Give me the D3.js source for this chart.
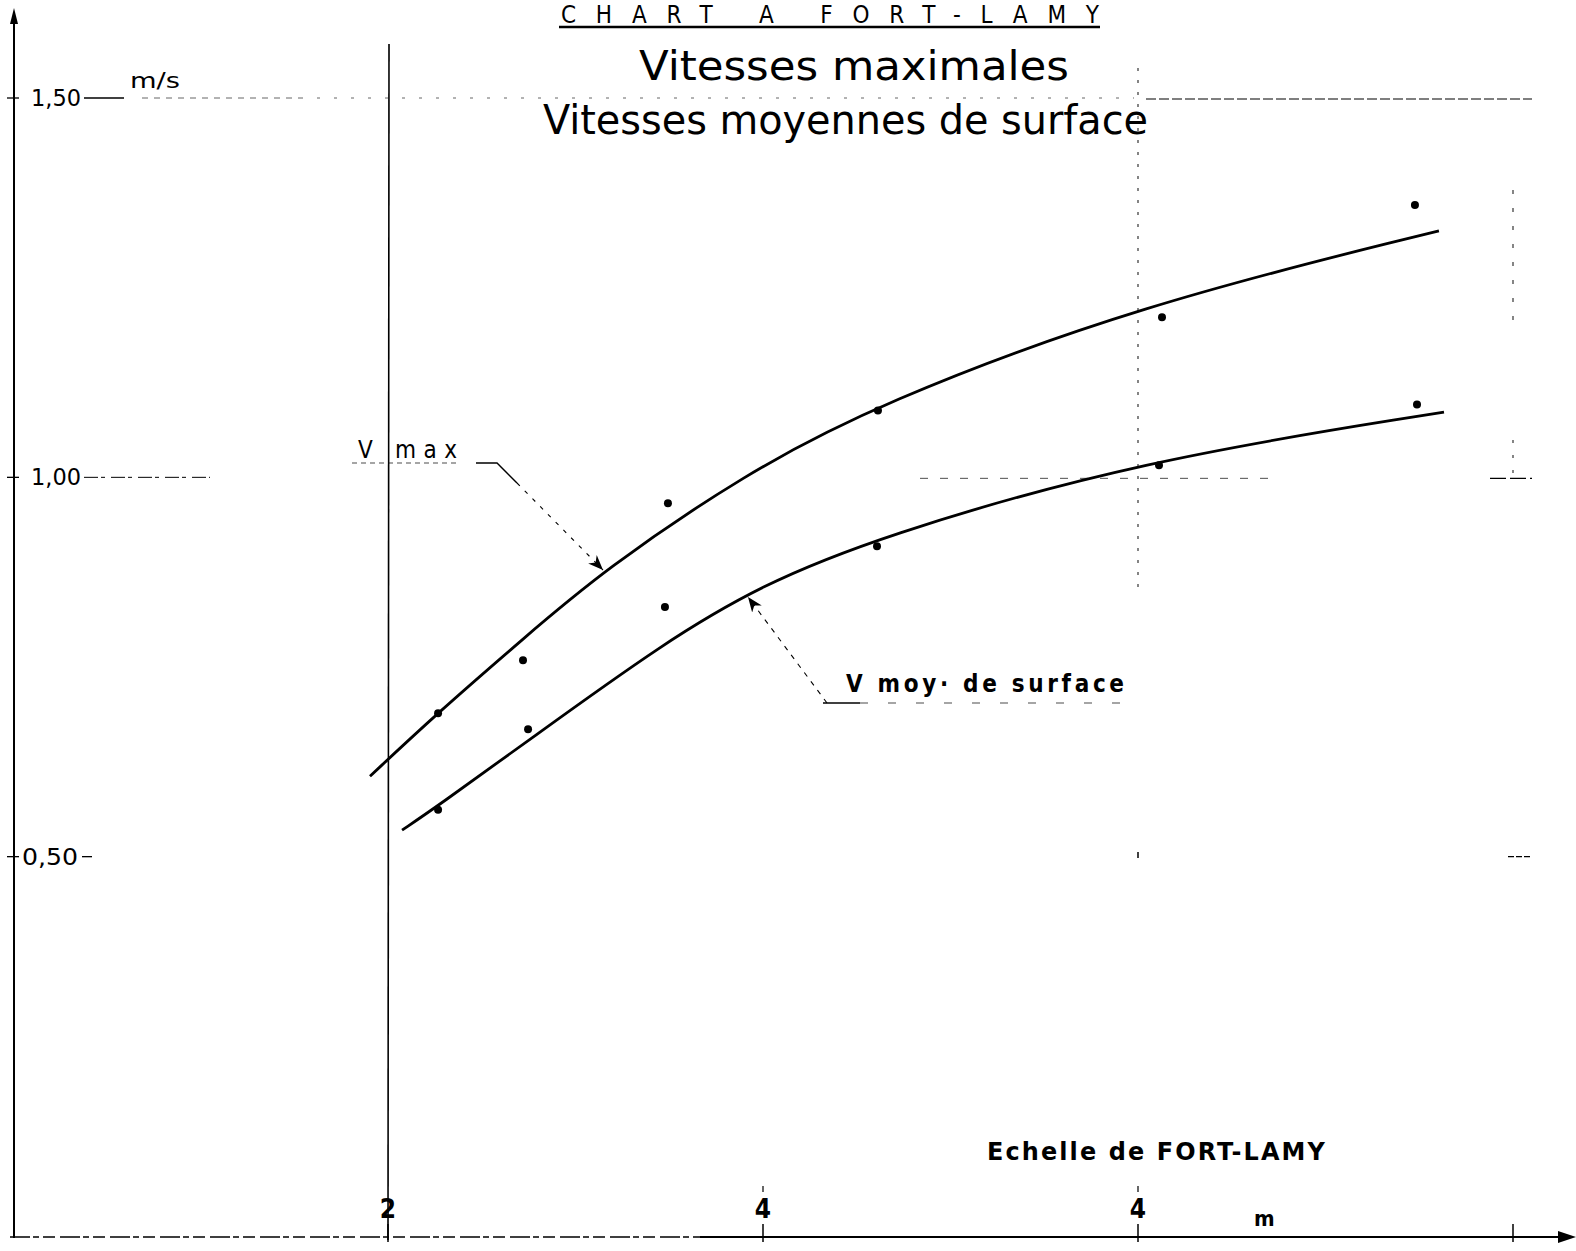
<!DOCTYPE html>
<html>
<head>
<meta charset="utf-8">
<script src="https://cdn.jsdelivr.net/npm/d3@7"></script>
<style>
body { margin: 0; background: #fff; }
text { font-family: "DejaVu Sans Condensed", "DejaVu Sans", sans-serif; fill: #000; }
</style>
</head>
<body>
<svg id="chart" width="1576" height="1251"></svg>
<script>
// axis ticks (x = stage at the Fort-Lamy gauge, m ; y = velocity, m/s)
var xTicks = [2, 4, 6, 8];
var xTickLabels = ["2", "4", "4", ""];
var yTicks = [1.5, 1.0, 0.5];
var yTickLabels = ["1,50", "1,00", "0,50"];

// observed points
var vmaxObs = [[2.267, 0.689], [2.72, 0.759], [3.493, 0.966], [4.613, 1.088], [6.128, 1.211], [7.477, 1.359]];
var vmoyObs = [[2.267, 0.562], [2.747, 0.668], [3.477, 0.829], [4.608, 0.909], [6.112, 1.016], [7.488, 1.096]];

// hand-drawn fitted curves
var vmaxCurve = [[1.904, 0.606], [2.267, 0.690], [2.72, 0.787], [3.147, 0.877], [3.899, 1.004], [4.613, 1.097], [6.005, 1.227], [7.605, 1.325]];
var vmoyCurve = [[2.075, 0.535], [2.267, 0.567], [2.747, 0.653], [3.477, 0.783], [3.984, 0.857], [4.608, 0.921], [6.005, 1.022], [7.632, 1.086]];

var svg = d3.select("#chart");
svg.append("rect").attr("width", 1576).attr("height", 1251).attr("fill", "#fff");

var x = d3.scaleLinear().domain([0, 8]).range([13, 1513]);
var y = d3.scaleLinear().domain([0, 1.5]).range([1236, 98]);

var defs = svg.append("defs");
defs.append("marker")
	.attr("id", "arrow")
	.attr("viewBox", "0 0 10 10")
	.attr("refX", 10).attr("refY", 5)
	.attr("markerWidth", 15).attr("markerHeight", 15)
	.attr("markerUnits", "userSpaceOnUse")
	.attr("orient", "auto")
	.append("path").attr("d", "M0,1 L10,5 L0,9 L3,5 Z").attr("fill", "#000");

// dotted guide lines
var guides = svg.append("g").attr("fill", "none").attr("stroke", "#000");
guides.append("line")
	.attr("x1", 142).attr("x2", 300).attr("y1", y(1.5)).attr("y2", y(1.5))
	.attr("stroke-width", 1).attr("stroke-dasharray", "6,6").attr("opacity", 0.6);
guides.append("line")
	.attr("x1", 300).attr("x2", 1134).attr("y1", y(1.5)).attr("y2", y(1.5))
	.attr("stroke-width", 1).attr("stroke-dasharray", "3,14").attr("opacity", 0.6);
guides.append("line")
	.attr("x1", 1146).attr("x2", 1532).attr("y1", y(1.5) + 1).attr("y2", y(1.5) + 1)
	.attr("stroke-width", 1.2).attr("stroke-dasharray", "10,3");
guides.append("line")
	.attr("x1", 84).attr("x2", 210).attr("y1", y(1.0)).attr("y2", y(1.0))
	.attr("stroke-width", 1).attr("stroke-dasharray", "14,3,4,6");
guides.append("line")
	.attr("x1", 920).attr("x2", 1270).attr("y1", y(1.0) + 1).attr("y2", y(1.0) + 1)
	.attr("stroke-width", 1).attr("stroke-dasharray", "8,12").attr("opacity", 0.7);
guides.append("line")
	.attr("x1", 1490).attr("x2", 1532).attr("y1", y(1.0) + 1).attr("y2", y(1.0) + 1)
	.attr("stroke-width", 1.2).attr("stroke-dasharray", "16,4");
guides.append("line")
	.attr("x1", 1508).attr("x2", 1532).attr("y1", y(0.5)).attr("y2", y(0.5))
	.attr("stroke-width", 1.2).attr("stroke-dasharray", "6,2");
guides.append("line")
	.attr("x1", x(6)).attr("x2", x(6)).attr("y1", 68).attr("y2", 590)
	.attr("stroke-width", 1.2).attr("stroke-dasharray", "3,9").attr("opacity", 0.8);
guides.append("line")
	.attr("x1", x(6)).attr("x2", x(6)).attr("y1", 852).attr("y2", 858)
	.attr("stroke-width", 1.5);
guides.append("line")
	.attr("x1", x(8)).attr("x2", x(8)).attr("y1", 190).attr("y2", 320)
	.attr("stroke-width", 1.2).attr("stroke-dasharray", "4,14").attr("opacity", 0.8);
guides.append("line")
	.attr("x1", x(8)).attr("x2", x(8)).attr("y1", 440).attr("y2", 480)
	.attr("stroke-width", 1.2).attr("stroke-dasharray", "3,12").attr("opacity", 0.8);

// reference vertical at stage 2
svg.append("line")
	.attr("x1", x(2) + 1).attr("x2", x(2)).attr("y1", 44).attr("y2", y(0) + 4)
	.attr("stroke", "#000").attr("stroke-width", 1.6);

// axes
var axes = svg.append("g").attr("stroke", "#000").attr("fill", "none");
axes.append("line")
	.attr("x1", x(0) + 1).attr("x2", x(0) + 1).attr("y1", y(0) + 2).attr("y2", 12)
	.attr("stroke-width", 2);
axes.append("path").attr("d", "M" + (x(0) + 1) + ",8 L" + (x(0) - 3) + ",24 L" + (x(0) + 5) + ",24 Z")
	.attr("fill", "#000").attr("stroke", "none");
axes.append("line")
	.attr("x1", 10).attr("x2", 700).attr("y1", y(0) + 1).attr("y2", y(0) + 1)
	.attr("stroke-width", 1.6).attr("stroke-dasharray", "20,3,6,4,12,5");
axes.append("line")
	.attr("x1", 700).attr("x2", 1562).attr("y1", y(0) + 1).attr("y2", y(0) + 1)
	.attr("stroke-width", 2.2);
axes.append("path").attr("d", "M1576," + (y(0) + 1) + " L1558," + (y(0) - 5) + " L1558," + (y(0) + 7) + " Z")
	.attr("fill", "#000").attr("stroke", "none");

axes.selectAll(".xtick").data(xTicks).enter().append("line")
	.attr("x1", function(d) { return x(d); }).attr("x2", function(d) { return x(d); })
	.attr("y1", y(0) - 12).attr("y2", y(0) + 6)
	.attr("stroke-width", 1.5);
axes.selectAll(".xtick2").data(xTicks.slice(1, 3)).enter().append("line")
	.attr("x1", function(d) { return x(d); }).attr("x2", function(d) { return x(d); })
	.attr("y1", y(0) - 50).attr("y2", y(0) - 44)
	.attr("stroke-width", 1.2);
axes.selectAll(".ytick").data(yTicks).enter().append("line")
	.attr("x1", x(0) - 6).attr("x2", x(0) + 6)
	.attr("y1", function(d) { return y(d); }).attr("y2", function(d) { return y(d); })
	.attr("stroke-width", 1.3);

// tick labels
svg.selectAll(".xlab").data(xTickLabels).enter().append("text")
	.attr("x", function(d, i) { return x(xTicks[i]); })
	.attr("y", 1218)
	.attr("text-anchor", "middle")
	.style("font-size", "26px").style("font-weight", "bold")
	.text(function(d) { return d; });

svg.selectAll(".ylab").data(yTickLabels).enter().append("text")
	.attr("x", function(d, i) { return i === 2 ? 22 : 31; })
	.attr("y", function(d, i) { return y(yTicks[i]) + 8; })
	.attr("textLength", function(d, i) { return i === 2 ? 56 : 50; })
	.attr("lengthAdjust", "spacingAndGlyphs")
	.style("font-size", "23px")
	.text(function(d) { return d; });

svg.append("line").attr("x1", 84).attr("x2", 124).attr("y1", y(1.5)).attr("y2", y(1.5))
	.attr("stroke", "#000").attr("stroke-width", 1.3);
svg.append("line").attr("x1", 82).attr("x2", 92).attr("y1", y(0.5)).attr("y2", y(0.5))
	.attr("stroke", "#000").attr("stroke-width", 1.3);
svg.append("text").attr("x", 130).attr("y", 88)
	.attr("textLength", 50).attr("lengthAdjust", "spacingAndGlyphs")
	.style("font-size", "21px").text("m/s");
svg.append("text").attr("x", 1254).attr("y", 1226)
	.style("font-size", "22px").style("font-weight", "bold").text("m");
svg.append("text").attr("x", 987).attr("y", 1160)
	.attr("textLength", 340).attr("lengthAdjust", "spacingAndGlyphs")
	.style("font-size", "25px").style("font-weight", "bold").style("letter-spacing", "2px")
	.text("Echelle de FORT-LAMY");

// titles
svg.append("text").attr("x", 561).attr("y", 23)
	.attr("textLength", 538).attr("lengthAdjust", "spacing")
	.style("font-size", "24px")
	.text("CHART A FORT-LAMY");
svg.append("line").attr("x1", 559).attr("x2", 1100).attr("y1", 27).attr("y2", 27)
	.attr("stroke", "#000").attr("stroke-width", 2.5);
svg.append("text").attr("x", 639).attr("y", 80)
	.attr("textLength", 430).attr("lengthAdjust", "spacingAndGlyphs")
	.style("font-size", "40px")
	.text("Vitesses  maximales");
svg.append("text").attr("x", 543).attr("y", 134)
	.attr("textLength", 605).attr("lengthAdjust", "spacingAndGlyphs")
	.style("font-size", "40px")
	.text("Vitesses moyennes  de surface");

// curves
var line = d3.line()
	.x(function(d) { return x(d[0]); })
	.y(function(d) { return y(d[1]); })
	.curve(d3.curveBasis);

svg.append("path").datum(vmaxCurve).attr("d", line)
	.attr("fill", "none").attr("stroke", "#000").attr("stroke-width", 2.8);
svg.append("path").datum(vmoyCurve).attr("d", line)
	.attr("fill", "none").attr("stroke", "#000").attr("stroke-width", 2.8);

// observed points
svg.selectAll(".pmax").data(vmaxObs).enter().append("circle")
	.attr("cx", function(d) { return x(d[0]); })
	.attr("cy", function(d) { return y(d[1]); })
	.attr("r", 4).attr("fill", "#000");
svg.selectAll(".pmoy").data(vmoyObs).enter().append("circle")
	.attr("cx", function(d) { return x(d[0]); })
	.attr("cy", function(d) { return y(d[1]); })
	.attr("r", 4).attr("fill", "#000");

// curve labels with leaders
svg.append("text").attr("x", 358).attr("y", 458)
	.style("font-size", "24px").text("V");
svg.append("text").attr("x", 395).attr("y", 458)
	.attr("textLength", 62).attr("lengthAdjust", "spacing")
	.style("font-size", "24px").text("max");
svg.append("line").attr("x1", 352).attr("x2", 460).attr("y1", 463).attr("y2", 463)
	.attr("stroke", "#000").attr("stroke-width", 1).attr("stroke-dasharray", "5,4").attr("opacity", 0.7);
svg.append("polyline").attr("points", "476,463 497,463 517,483")
	.attr("fill", "none").attr("stroke", "#000").attr("stroke-width", 1.4);
svg.append("line").attr("x1", 517).attr("y1", 483).attr("x2", 603).attr("y2", 570)
	.attr("stroke", "#000").attr("stroke-width", 1.1).attr("stroke-dasharray", "4,7")
	.attr("marker-end", "url(#arrow)");

svg.append("text").attr("x", 846).attr("y", 692)
	.attr("textLength", 278).attr("lengthAdjust", "spacing")
	.style("font-size", "24px").style("font-weight", "bold")
	.text("V moy· de surface");
svg.append("line").attr("x1", 827).attr("y1", 703).attr("x2", 748).attr("y2", 597)
	.attr("stroke", "#000").attr("stroke-width", 1.1).attr("stroke-dasharray", "5,6")
	.attr("marker-end", "url(#arrow)");
svg.append("line").attr("x1", 823).attr("x2", 860).attr("y1", 703).attr("y2", 703)
	.attr("stroke", "#000").attr("stroke-width", 1.4);
svg.append("line").attr("x1", 860).attr("x2", 1130).attr("y1", 703).attr("y2", 703)
	.attr("stroke", "#000").attr("stroke-width", 1).attr("stroke-dasharray", "8,20").attr("opacity", 0.7);
</script>
</body>
</html>
